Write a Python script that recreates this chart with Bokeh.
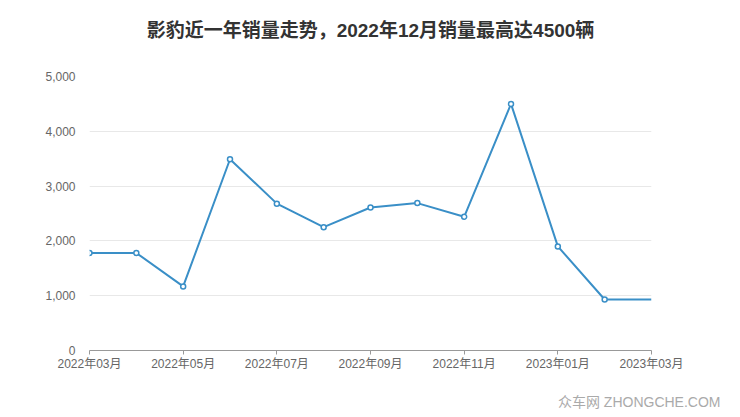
from bokeh.plotting import figure
from bokeh.models import FixedTicker, NumeralTickFormatter, Range1d, Title, ColumnDataSource
from bokeh.embed import file_html
from bokeh.resources import INLINE

months = ["2022年03月", "2022年04月", "2022年05月", "2022年06月", "2022年07月", "2022年08月",
          "2022年09月", "2022年10月", "2022年11月", "2022年12月", "2023年01月", "2023年02月",
          "2023年03月"]
sales = [1780, 1780, 1170, 3490, 2680, 2250, 2610, 2690, 2440, 4500, 1900, 930, 930]
y_ticks = [0, 1000, 2000, 3000, 4000, 5000]
title_text = "影豹近一年销量走势，2022年12月销量最高达4500辆"
watermark = "众车网 ZHONGCHE.COM"

idx = list(range(len(months)))
src = ColumnDataSource(dict(x=idx, y=sales))
mk = ColumnDataSource(dict(x=idx[:-1], y=sales[:-1]))

FONT = "Liberation Sans, Noto Sans CJK SC"
LINE = "#3a8fc7"

p = figure(width=740, height=417, output_backend="svg", toolbar_location=None,
           x_range=Range1d(0, len(months) - 1), y_range=Range1d(0, 5000),
           min_border_left=89, min_border_right=89, min_border_top=76, min_border_bottom=67)
p.outline_line_color = None
p.background_fill_color = "white"
p.border_fill_color = "white"

# white (invisible) spacer between frame and title
p.add_layout(Title(text=".", standoff=28, text_font_size="1px", text_color="white"), "above")

p.title.text = title_text
p.title.align = "center"
p.title.text_font = "Liberation Sans, Noto Sans CJK SC"
p.title.text_font_size = "19px"
p.title.text_font_style = "bold"
p.title.text_color = "#333333"
p.title.standoff = 10

p.line("x", "y", source=src, line_color=LINE, line_width=2)
p.scatter("x", "y", source=mk, size=5, marker="circle", fill_color="white",
          line_color=LINE, line_width=1.5)

p.xgrid.grid_line_color = None
p.ygrid.grid_line_color = "#e8e8e8"
p.ygrid.grid_line_width = 1

p.xaxis.ticker = FixedTicker(ticks=idx[::2])
p.xaxis.major_label_overrides = {i: months[i] for i in idx}
p.xaxis.axis_line_color = "#999999"
p.xaxis.axis_line_width = 1.2
p.xaxis.major_tick_line_color = "#999999"
p.xaxis.major_tick_in = 0
p.xaxis.major_tick_out = 4
p.xaxis.minor_tick_line_color = None
p.xaxis.major_label_text_font = FONT
p.xaxis.major_label_text_font_size = "12px"
p.xaxis.major_label_text_color = "#666666"
p.xaxis.major_label_standoff = 2

p.yaxis.ticker = FixedTicker(ticks=y_ticks)
p.yaxis.formatter = NumeralTickFormatter(format="0,0")
p.yaxis.axis_line_color = None
p.yaxis.major_tick_line_color = None
p.yaxis.minor_tick_line_color = None
p.yaxis.major_label_text_font = FONT
p.yaxis.major_label_text_font_size = "12px"
p.yaxis.major_label_text_color = "#666666"
p.yaxis.major_label_standoff = 8

# white (invisible) spacer between x axis and watermark
p.add_layout(Title(text=".", standoff=13, text_font_size="1px", text_color="white"), "below")
wm = Title(text=watermark, align="right", offset=-69, standoff=4,
           text_font="Liberation Sans, Noto Sans CJK SC", text_font_size="14px",
           text_font_style="normal", text_color="#aaaaaa")
p.add_layout(wm, "below")

open("out.html", "w").write(file_html(p, INLINE))
